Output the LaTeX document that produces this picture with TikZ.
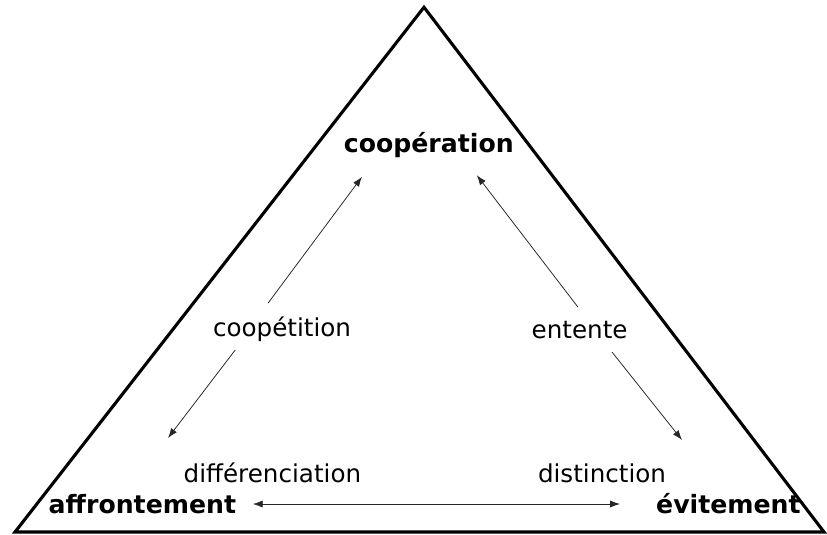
\documentclass[tikz,border=0pt]{standalone}
\usepackage{fontspec}
\setmainfont{DejaVu Sans}
\usepackage{tikz}
\usetikzlibrary{arrows.meta}

\begin{document}
\begin{tikzpicture}[
  >={Latex[length=7pt,width=5pt]},
  pole/.style={font=\fontsize{17.9}{20}\selectfont\bfseries, anchor=base, inner sep=1pt},
  mode/.style={font=\fontsize{17.5}{20}\selectfont, anchor=base, inner sep=1pt},
  link/.style={->, black!85, line width=0.55pt},
]
\useasboundingbox (0,0) rectangle (20.675,-13.35);

% Triangle
\draw[line width=2.2pt, line join=miter]
  (0.375,-13.3) -- (10.6,-0.18) -- (20.6,-13.3) -- cycle;

% Poles
\node[pole] (cooperation)  at (10.72,-3.80)  {coopération};
\node[pole] (affrontement) at (3.56,-12.83)  {affrontement};
\node[pole] (evitement)    at (18.21,-12.83) {évitement};

% Intermediate modes
\node[mode] (coopetition)     at (7.05,-8.42)   {coopétition};
\node[mode] (entente)         at (14.49,-8.45)  {entente};
\node[mode] (differenciation) at (6.81,-12.05)  {différenciation};
\node[mode] (distinction)     at (15.05,-12.05) {distinction};

% Arrow ends
\coordinate (cpt-a) at (6.70,-7.58);
\coordinate (cpt-b) at (9.05,-4.42);
\coordinate (cpt-c) at (5.88,-8.75);
\coordinate (cpt-d) at (4.20,-10.95);
\coordinate (ent-a) at (14.45,-7.68);
\coordinate (ent-b) at (11.92,-4.38);
\coordinate (ent-c) at (15.30,-8.80);
\coordinate (ent-d) at (17.05,-11.00);
\coordinate (dif-a) at (6.32,-12.60);
\coordinate (dif-b) at (15.50,-12.60);

% Arrows
\draw[link] (cpt-a) -- (cpt-b);
\draw[link] (cpt-c) -- (cpt-d);
\draw[link] (ent-a) -- (ent-b);
\draw[link] (ent-c) -- (ent-d);
\draw[link, <->] (dif-a) -- (dif-b);
\end{tikzpicture}
\end{document}
